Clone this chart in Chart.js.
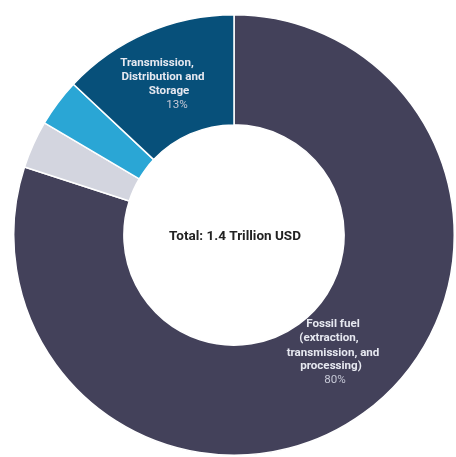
<!DOCTYPE html>
<html>
<head>
<meta charset="utf-8">
<script src="https://cdn.jsdelivr.net/npm/chart.js@4"></script>
<style>
    html, body { margin: 0; padding: 0; background: #fff; overflow: hidden; }
    #wrap { position: absolute; left: 13px; top: 14px; width: 442px; height: 442px; }
</style>
</head>
<body>
<div id="wrap"><canvas id="chart-invest" width="442" height="442"></canvas></div>
<script>
(function () {
    'use strict';

    const categories = ['Fossil fuel', 'Other low-carbon', 'Renewables', 'Transmission, Distribution and Storage'];
    const shares     = [80, 3.5, 3.5, 13];
    const colors     = ['#43415a', '#d3d5df', '#2aa6d5', '#07507a'];
    const totalText  = 'Total: 1.4 Trillion USD';

    // slice captions: text lines with offsets from the ring centre
    const captions = [
        { lines: [
            { t: 'Fossil fuel',        dx: 99, dy: 89 },
            { t: '(extraction,',       dx: 95, dy: 103 },
            { t: 'transmission, and',  dx: 99, dy: 118 },
            { t: 'processing)',        dx: 97, dy: 131 },
        ], pct: { t: '80%', dx: 101, dy: 145 } },
        { lines: [
            { t: 'Transmission,',      dx: -77, dy: -172 },
            { t: 'Distribution and',   dx: -71, dy: -158 },
            { t: 'Storage',            dx: -65, dy: -144 },
        ], pct: { t: '13%', dx: -57, dy: -130 } },
    ];

    const labelPlugin = {
        id: 'sliceLabels',
        afterDraw(chart) {
            const arc = chart.getDatasetMeta(0).data[0];
            if (!arc) return;
            const cx = arc.x, cy = arc.y;
            const ctx = chart.ctx;
            ctx.save();
            ctx.textAlign = 'center';
            ctx.textBaseline = 'middle';

            captions.forEach(c => {
                ctx.font = 'bold 11.6px Roboto, sans-serif';
                ctx.fillStyle = '#e6e8f0';
                c.lines.forEach(l => ctx.fillText(l.t, cx + l.dx, cy + l.dy));
                ctx.font = '11.6px Roboto, sans-serif';
                ctx.fillStyle = '#c6c8d6';
                ctx.fillText(c.pct.t, cx + c.pct.dx, cy + c.pct.dy);
            });

            ctx.font = 'bold 13.5px Roboto, sans-serif';
            ctx.fillStyle = '#222';
            ctx.fillText(totalText, cx + 1, cy + 2);
            ctx.restore();
        }
    };

    new Chart(document.getElementById('chart-invest'), {
        type: 'doughnut',
        data: {
            labels: categories,
            datasets: [{
                data: shares,
                backgroundColor: colors,
                borderColor: '#ffffff',
                borderWidth: 1.5,
            }],
        },
        options: {
            responsive: false,
            animation: false,
            cutout: '50%',
            layout: { padding: 0 },
            plugins: {
                legend: { display: false },
                tooltip: { enabled: false },
            },
        },
        plugins: [labelPlugin],
    });
})();
</script>
</body>
</html>
